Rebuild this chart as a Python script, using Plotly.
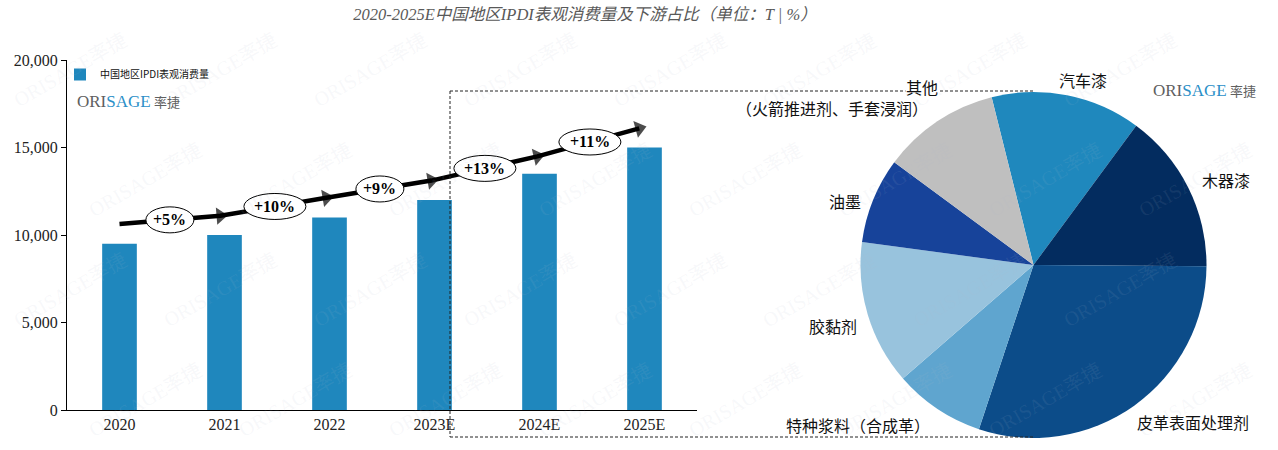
import plotly.graph_objects as go

# ---------------- data ----------------
years = ["2020", "2021", "2022", "2023E", "2024E", "2025E"]
consumption = [9500, 10000, 11000, 12000, 13500, 15000]
growth_labels = ["+5%", "+10%", "+9%", "+13%", "+11%"]

segments = ["汽车漆", "木器漆", "皮革表面处理剂", "特种浆料（合成革）", "胶黏剂", "油墨", "其他（火箭推进剂、手套浸润）"]
shares = [14, 15, 30, 8.5, 13.5, 8, 11]
seg_colors = ["#1f88bd", "#032c5f", "#0c4c89", "#5fa5cf", "#98c3dd", "#17439a", "#bfbfbf"]

# decorative growth-arrow path (category index, value level)
arrow_x = [0.0, 0.96, 1.97, 2.97, 3.98, 4.95]
arrow_y = [10630, 11100, 12130, 13110, 14490, 16090]

BAR_COLOR = "#1f87bd"
W, H = 1278, 450
ML, MR, MT, MB = 67, 0, 60, 10
PW, PH = W - ML - MR, H - MT - MB


def px2x(px):
    return (px - ML) / PW


def py2y(py):
    return (H - MB - py) / PH


SERIF = "Liberation Serif, Times New Roman, Noto Sans CJK SC, serif"
CJK = "Noto Sans CJK SC, sans-serif"

fig = go.Figure()

fig.add_trace(go.Bar(
    x=list(range(len(years))), y=consumption, width=0.33,
    marker=dict(color=BAR_COLOR, line=dict(width=0)),
    name="中国地区IPDI表观消费量", xaxis="x", yaxis="y",
    customdata=years, hovertemplate="%{customdata}: %{y:,}<extra></extra>",
))

fig.add_trace(go.Scatter(
    x=arrow_x, y=arrow_y, mode="lines+markers", xaxis="x", yaxis="y",
    line=dict(color="black", width=4.5),
    marker=dict(symbol="triangle-up", angleref="previous", color="black",
                size=[0] + [15] * (len(arrow_x) - 1), line=dict(width=0)),
    showlegend=False, hoverinfo="skip",
))

fig.add_trace(go.Pie(
    labels=segments, values=shares, sort=False, direction="clockwise",
    rotation=-14, marker=dict(colors=seg_colors, line=dict(width=0)),
    textinfo="none", hoverinfo="label+percent", showlegend=False,
    domain=dict(x=[px2x(860), px2x(1207)], y=[py2y(438), py2y(92)]),
))

shapes = []
annotations = []

# watermarks (drawn first so everything else sits above)
for r, wy in enumerate(range(70, 420, 110)):
    off = 0 if r % 2 == 0 else 75
    for wx in range(70 + off, 1230, 150):
        annotations.append(dict(x=px2x(wx), y=py2y(wy), xref="paper", yref="paper",
                                xanchor="center", yanchor="middle",
                                text="ORISAGE率捷", showarrow=False, textangle=-30,
                                font=dict(family=SERIF, size=20, color="rgba(175,190,205,0.10)")))

# growth ellipses + labels
for i, lab in enumerate(growth_labels):
    cx = i + 0.48
    x0, x1 = arrow_x[i], arrow_x[i + 1]
    y0, y1 = arrow_y[i], arrow_y[i + 1]
    cy = y0 + (y1 - y0) * (cx - x0) / (x1 - x0)
    w = 48 if len(lab) == 3 else 62
    shapes.append(dict(type="circle", xref="x", yref="y", xsizemode="pixel", ysizemode="pixel",
                       xanchor=cx, yanchor=cy, x0=-w / 2, x1=w / 2, y0=-13, y1=13,
                       fillcolor="white", line=dict(color="black", width=1), layer="above"))
    annotations.append(dict(x=cx, y=cy, xref="x", yref="y", text="<b>%s</b>" % lab, showarrow=False,
                            xanchor="center", yanchor="middle",
                            font=dict(family=SERIF, size=16, color="black")))

# dashed bracket linking 2023E to the pie
dash = dict(color="#222", width=1, dash="3px,2px")
shapes.append(dict(type="line", xref="paper", yref="paper", x0=px2x(450), x1=px2x(450),
                   y0=py2y(91), y1=py2y(437), line=dash, layer="above"))
shapes.append(dict(type="line", xref="paper", yref="paper", x0=px2x(450), x1=px2x(1033),
                   y0=py2y(91), y1=py2y(91), line=dash, layer="above"))
shapes.append(dict(type="line", xref="paper", yref="paper", x0=px2x(450), x1=px2x(1033),
                   y0=py2y(437), y1=py2y(437), line=dash, layer="above"))

# pie labels
pie_labels = [
    ("其他", 922, 87, True),
    ("（火箭推进剂、手套浸润）", 832, 108, False),
    ("汽车漆", 1083, 80, False),
    ("木器漆", 1226, 180, False),
    ("油墨", 845, 201, False),
    ("胶黏剂", 833, 326, False),
    ("特种浆料（合成革）", 858, 425, False),
    ("皮革表面处理剂", 1193, 422, False),
]
for txt, lx, ly, bg in pie_labels:
    a = dict(x=px2x(lx), y=py2y(ly), xref="paper", yref="paper", text=txt, showarrow=False,
             xanchor="center", yanchor="middle",
             font=dict(family=CJK, size=16, color="#111"))
    if bg:
        a["bgcolor"] = "white"
        a["borderpad"] = 0
    annotations.append(a)

# logos
logo = ("<span style='color:#606060'>ORI</span><span style='color:#2b8fc8'>SAGE</span>"
        "<span style='color:#606060;font-size:13px'> 率捷</span>")
for lx, ly in [(128, 101), (1204, 90)]:
    annotations.append(dict(x=px2x(lx), y=py2y(ly), xref="paper", yref="paper", text=logo,
                            xanchor="center", yanchor="middle",
                            showarrow=False, font=dict(family=SERIF, size=17, color="#606060")))

fig.update_layout(
    width=W, height=H,
    margin=dict(l=ML, r=MR, t=MT, b=MB),
    paper_bgcolor="white", plot_bgcolor="white",
    title=dict(text="<i>2020-2025E中国地区IPDI表观消费量及下游占比（单位：T | %）</i>",
               x=585 / W, y=1 - 14 / H, xanchor="center", yanchor="middle",
               font=dict(family=SERIF, size=16.5, color="#595959")),
    xaxis=dict(domain=[0, px2x(697)], range=[-0.5, 5.5], tickvals=list(range(len(years))),
               ticktext=years, showline=True, linecolor="black", linewidth=1, ticks="",
               showgrid=False, zeroline=False, fixedrange=True,
               tickfont=dict(family=SERIF, size=16, color="#222")),
    yaxis=dict(domain=[py2y(410), 1], range=[0, 20000], dtick=5000, tickformat=",d",
               ticks="outside", ticklen=5, tickcolor="black", showline=True, linecolor="black",
               linewidth=1, showgrid=False, zeroline=False, fixedrange=True,
               tickfont=dict(family=SERIF, size=16, color="#222")),
    legend=dict(x=px2x(60), y=1.0, xanchor="left", yanchor="top", bgcolor="rgba(0,0,0,0)",
                font=dict(family=CJK, size=10, color="#111")),
    shapes=shapes, annotations=annotations,
)

fig.write_html("out.html", config={"displayModeBar": False},
               post_script="document.body.style.margin='0';document.body.style.overflow='hidden';")
